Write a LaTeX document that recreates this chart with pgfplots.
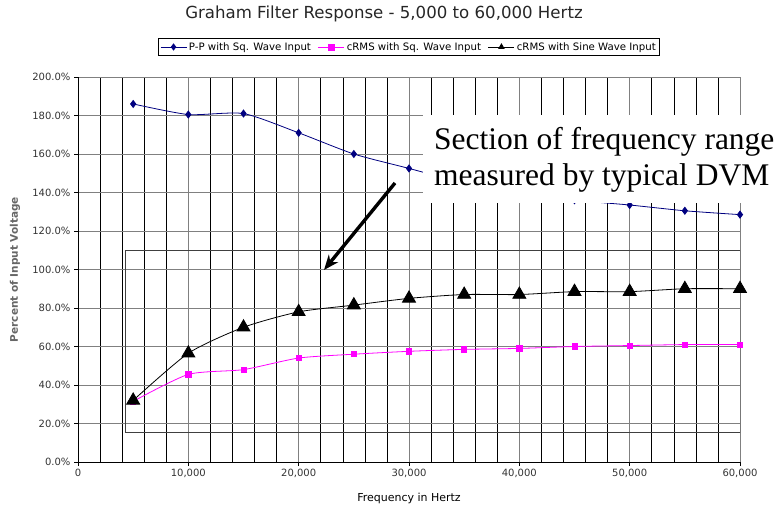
\documentclass[border=0pt]{standalone}
\usepackage{fontspec}
\setmainfont{DejaVu Sans}
\newfontfamily\timesfont{Liberation Serif}
\usepackage{pgfplots}
\pgfplotsset{compat=1.18}
\usetikzlibrary{arrows.meta}
\definecolor{navyb}{RGB}{0,0,128}
\definecolor{magb}{RGB}{255,0,255}
\definecolor{grd}{RGB}{128,128,128}

\pgfplotstableread{
x y
5000 186
10000 180.5
15000 181
20000 171
25000 160
30000 152.5
35000 145
40000 140
45000 136
50000 133.5
55000 130.5
60000 128.5
}\pp

\pgfplotstableread{
x y
5000 31.5
10000 45.5
15000 48
20000 54
25000 56
30000 57.5
35000 58.5
40000 59
45000 60
50000 60.5
55000 61
60000 61
}\crmssq

\pgfplotstableread{
x y
5000 32
10000 56.5
15000 70
20000 78
25000 81.5
30000 85
35000 87
40000 87
45000 88.5
50000 88.5
55000 90
60000 90
}\crmssine

\begin{document}
\begin{tikzpicture}[x=1pt,y=1pt]
\path (0,0) rectangle (783,508);
\begin{axis}[
  at={(78pt,46pt)}, anchor=south west,
  scale only axis, width=662pt, height=385pt,
  xmin=0, xmax=60000, ymin=0, ymax=200,
  axis x line*=bottom, axis y line*=left,
  axis line style={black, line width=0.8pt},
  xtick={0,10000,...,60000}, minor x tick num=4,
  ytick={0,20,...,200},
  grid=both,
  major grid style={grd, line width=0.9pt},
  minor grid style={black, line width=0.5pt},
  tick align=outside, major tick length=4pt, minor tick length=0pt,
  tick style={black, line width=0.6pt},
  scaled x ticks=false,
  /pgf/number format/assume math mode=true,
  xticklabel={\pgfmathprintnumber[fixed, precision=0, 1000 sep={,}]{\tick}},
  yticklabel={\pgfmathprintnumber[fixed, fixed zerofill, precision=1]{\tick}\%},
  tick label style={font=\fontsize{10}{11}\selectfont, text=black!80},
  xlabel={Frequency in Hertz},
  xlabel style={font=\fontsize{11}{12}\selectfont, at={(axis description cs:0.5,-0.095)}, anchor=center},
  ylabel={\textbf{Percent of Input Voltage}},
  ylabel style={font=\fontsize{10.5}{12}\selectfont, text=black!60, at={(axis description cs:-0.095,0.5)}, anchor=center},
  legend columns=3,
  legend style={at={(axis description cs:0.5,1.078)}, anchor=center, draw=black, line width=0.6pt,
    font=\fontsize{10.2}{11.5}\selectfont, inner sep=1.8pt,
    /tikz/every even column/.append style={column sep=5pt}},
  legend image code/.code={\draw[mark repeat=2,mark phase=2,#1, mark size=3pt] plot coordinates {(0pt,0pt) (13pt,0pt) (26pt,0pt)};},
  legend cell align=left,
]
\draw[black!75, line width=0.8pt] (axis cs:4260,15.6) rectangle (axis cs:60000,110);
\addplot[navyb, line width=0.8pt, mark=diamond*, mark size=3.5pt, smooth, tension=0.4,
  mark options={solid, fill=navyb}] table {\pp};
\addlegendentry{P-P with Sq. Wave Input}
\addplot[magb, line width=0.8pt, mark=square*, mark size=2.6pt, smooth, tension=0.4,
  mark options={solid, fill=magb}] table {\crmssq};
\addlegendentry{cRMS with Sq. Wave Input}
\addplot[black, line width=0.8pt, mark=triangle*, mark size=7.5pt, smooth, tension=0.4,
  mark options={solid, fill=black}] table {\crmssine};
\addlegendentry{cRMS with Sine Wave Input}
\end{axis}
\node[font=\fontsize{16.6}{18}\selectfont, text=black!85] at (384,494) {Graham Filter Response - 5,000 to 60,000 Hertz};
\fill[white] (423,305) rectangle (783,393);
\node[font=\timesfont\fontsize{31.5}{36}\selectfont, anchor=west, align=left, inner sep=0pt] at (434,348)
  {Section of frequency range\\measured by typical DVM};
\draw[-{Stealth[length=15pt, width=12pt]}, line width=3.4pt] (395,325) -- (324,238);
\end{tikzpicture}
\end{document}
